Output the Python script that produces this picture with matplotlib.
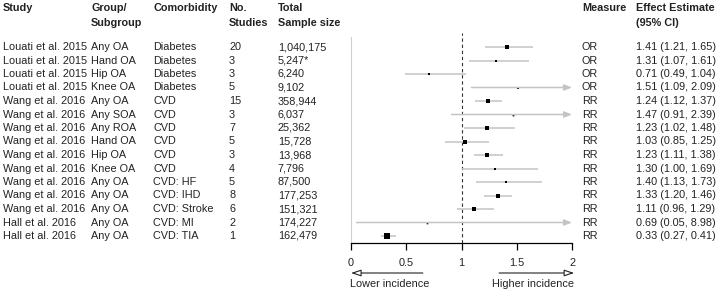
import numpy as np
import matplotlib
matplotlib.use("Agg")
import matplotlib.pyplot as plt
import matplotlib.transforms as mtransforms

plt.rcParams['font.family'] = ['Liberation Sans', 'DejaVu Sans']

# data
studies = ["Louati et al. 2015"] * 4 + ["Wang et al. 2016"] * 9 + ["Hall et al. 2016"] * 2
groups = ["Any OA", "Hand OA", "Hip OA", "Knee OA", "Any OA", "Any SOA", "Any ROA",
          "Hand OA", "Hip OA", "Knee OA", "Any OA", "Any OA", "Any OA", "Any OA", "Any OA"]
comorbidity = ["Diabetes"] * 4 + ["CVD"] * 6 + ["CVD: HF", "CVD: IHD", "CVD: Stroke",
                                                 "CVD: MI", "CVD: TIA"]
n_studies = [20, 3, 3, 5, 15, 3, 7, 5, 3, 4, 5, 8, 6, 2, 1]
sample_size = ["1,040,175", "5,247*", "6,240", "9,102", "358,944", "6,037", "25,362",
               "15,728", "13,968", "7,796", "87,500", "177,253", "151,321", "174,227",
               "162,479"]
measure = ["OR"] * 4 + ["RR"] * 11
est = [1.41, 1.31, 0.71, 1.51, 1.24, 1.47, 1.23, 1.03, 1.23, 1.30, 1.40, 1.33, 1.11, 0.69, 0.33]
lower = [1.21, 1.07, 0.49, 1.09, 1.12, 0.91, 1.02, 0.85, 1.11, 1.00, 1.13, 1.20, 0.96, 0.05, 0.27]
upper = [1.65, 1.61, 1.04, 2.09, 1.37, 2.39, 1.48, 1.25, 1.38, 1.69, 1.73, 1.46, 1.29, 8.98, 0.41]
x_ticks = [0, 0.5, 1, 1.5, 2]

W, H = 720, 292
FS = 7.8
TXT = "#222222"
fig = plt.figure(figsize=(W / 100, H / 100), dpi=100)

# forest panel: x=0 at px 351, x=2 at px 572; axis line at px 243
ax = fig.add_axes([351 / W, 1 - 243 / H, (572 - 351) / W, (243 - 37) / H])
n = len(est)
row_top, row_step = 47, 13.5
ax.set_xlim(0, 2)
ax.set_ylim((243 - row_top) / row_step, -(row_top - 37) / row_step)
for s in ["top", "right"]:
    ax.spines[s].set_visible(False)
ax.spines["left"].set_color("#d0d0d0")
ax.spines["left"].set_linewidth(0.8)
ax.spines["bottom"].set_linewidth(0.9)
ax.set_yticks([])
ax.set_xticks(x_ticks)
ax.set_xticklabels([f"{t:g}" for t in x_ticks], fontsize=FS, color=TXT)
ax.tick_params(axis="x", length=5, width=0.9, pad=6)

ax.axvline(1, color="#333333", lw=0.8, ls=(0, (3, 2.5)), ymax=1.02, clip_on=False)

# box size from CI width (narrower CI -> bigger box)
info = 1 / (np.array(upper) - np.array(lower))
info = info / info.max()
ci_col = "#c4c4c4"
for i in range(n):
    if upper[i] > 2:
        ax.annotate("", xy=(2, i), xytext=(lower[i], i),
                    arrowprops=dict(arrowstyle="-|>,head_length=0.45,head_width=0.18",
                                    color=ci_col, lw=1.1, shrinkA=0, shrinkB=0))
    else:
        ax.plot([lower[i], upper[i]], [i, i], color=ci_col, lw=1.1, solid_capstyle="butt")
    ax.plot(est[i], i, marker="s", color="black", ms=max(4.2 * np.sqrt(info[i]), 1.2), mew=0)

# bottom arrows
ann_tr = mtransforms.blended_transform_factory(ax.transData, fig.transFigure)
ann_y = 1 - 273 / H
ax.annotate("", xy=(0, ann_y), xytext=(0.65, ann_y), xycoords=ann_tr,
            arrowprops=dict(arrowstyle="-|>,head_length=0.6,head_width=0.2",
                            fc="white", ec=TXT, lw=0.8, shrinkA=0, shrinkB=0))
ax.annotate("", xy=(2.02, ann_y), xytext=(1.34, ann_y), xycoords=ann_tr,
            arrowprops=dict(arrowstyle="-|>,head_length=0.6,head_width=0.2",
                            fc="white", ec=TXT, lw=0.8, shrinkA=0, shrinkB=0))
fig.text(350 / W, 1 - 284 / H, "Lower incidence", fontsize=FS, va="center", ha="left",
         color=TXT)
fig.text(574 / W, 1 - 284 / H, "Higher incidence", fontsize=FS, va="center", ha="right",
         color=TXT)

# table columns
tr = mtransforms.blended_transform_factory(fig.transFigure, ax.transData)
effect = [f"{e:.2f} ({l:.2f}, {u:.2f})" for e, l, u in zip(est, lower, upper)]
columns = [(3, studies), (91, groups), (153, comorbidity), (229, [str(v) for v in n_studies]),
           (278, sample_size), (582, measure), (636, effect)]
for xpx, vals in columns:
    for i, v in enumerate(vals):
        ax.text(xpx / W, i, v, transform=tr, fontsize=FS, va="center", ha="left",
                color=TXT, clip_on=False)

headers = [(3, "Study", ""), (91, "Group/", "Subgroup"), (153, "Comorbidity", ""),
           (229, "No.", "Studies"), (278, "Total", "Sample size"), (582, "Measure", ""),
           (636, "Effect Estimate", "(95% CI)")]
for xpx, l1, l2 in headers:
    fig.text(xpx / W, 1 - 8 / H, l1, fontsize=FS, fontweight="bold", va="center",
             ha="left", color=TXT)
    if l2:
        fig.text(xpx / W, 1 - 22.5 / H, l2, fontsize=FS, fontweight="bold", va="center",
                 ha="left", color=TXT)

fig.savefig("out.png", dpi=100, facecolor="white")
